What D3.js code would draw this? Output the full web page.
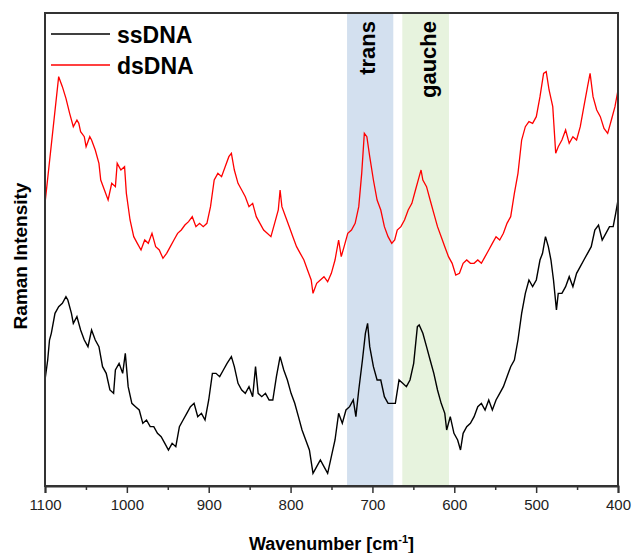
<!DOCTYPE html>
<html lang="en">
<head>
<meta charset="UTF-8">
<title>Raman spectra</title>
<script src="https://d3js.org/d3.v7.min.js"></script>
<style>
  body { margin: 0; background: #fff; }
  text { font-family: Arial, "Liberation Sans", sans-serif; }
  .frame { fill: none; stroke: #333; stroke-width: 2; }
  .axis path { stroke: #333; stroke-width: 2; }
  .axis line { stroke: #333; stroke-width: 1.5; }
  .axis text { font-size: 15px; fill: #222; }
</style>
</head>
<body>
<svg width="633" height="553"></svg>
<script>
// wavenumbers (cm-1) and intensities (a.u.)
var ssWave = [1100,1096.7,1094.5,1092.3,1087.8,1083.3,1078.8,1074.4,1072.1,1067.7,1065.4,1061,1056.5,1052,1047.5,1043.1,1038.6,1034.1,1029.7,1025.2,1020.7,1016.2,1014,1009.5,1005.1,1001.9,998.4,993.9,989.4,984.9,980.5,976,971.5,967.1,962.6,958.1,953.6,949.2,944.7,940.2,935.8,931.3,926.8,922.3,917.9,913.4,908.9,904.5,900,895.5,891.1,886.6,882.1,877.6,872.3,868.7,864.2,859.7,855.3,850.8,846.3,842.8,839.6,835.2,830.7,826.2,821.7,817.3,812.8,808.3,803.9,799.4,794.9,790.4,786,781.5,777,772.6,768.1,763.6,759.2,754.7,750.2,745.7,741.3,736.8,732.3,727.9,723.4,720.2,716.7,712.2,708.6,705.9,703.3,698.8,694.3,689.8,685.4,680.9,676.4,672,667.5,663,658.5,654.1,649.6,645.1,642.9,638.4,633.9,629.5,625,620.5,616,611.6,609.3,604.9,600.4,595.9,592.4,589.2,584.8,580.3,575.8,571.3,566.9,562.4,557.9,553.5,549,544.5,540,535.6,531.1,526.6,522.2,517.7,513.2,508.8,504.3,499.8,495.3,492.2,488.6,485.1,481.9,478.8,475.2,473,468.5,464,459.6,455.1,450.6,446.1,441.7,437.2,432.7,428.3,423.8,419.3,414.8,410.4,405.9,402.8,400];
var ssInt = [31.8,37.8,43.8,45.8,51.8,53.8,54.8,56.8,55.8,51.8,48.8,50.8,46.8,43.8,41.8,46.8,43.8,41.8,35.8,33.8,28.8,27.8,34.8,36.8,33.8,39.8,29.8,24.8,23.8,22.8,18.8,19.8,17.8,17.8,15.8,14.8,12.8,10.8,12.8,11.8,17.8,19.8,21.8,23.8,24.8,20.8,21.8,19.8,25.8,33.8,33.8,32.8,34.8,36.8,38.8,35.8,30.8,28.8,27.8,29.8,26.8,35.8,27.8,26.8,27.8,25.8,25.8,32.8,38.8,34.8,31.8,27.8,24.8,20.8,16.8,13.8,10.8,3.8,5.8,7.8,5.8,3.8,8.8,13.8,21.8,18.8,22.8,23.8,25.8,20.8,28.8,37.8,45.8,48.8,41.8,35.8,31.8,31.8,26.8,24.8,24.8,24.8,31.8,30.8,29.8,31.8,36.8,47.8,48.3,45.8,41.8,37.8,33.8,28.8,24.8,21.8,16.8,20.8,15.8,13.8,10.8,15.8,17.8,18.8,20.8,23.8,24.8,22.8,25.8,22.8,25.8,27.8,29.8,32.8,35.8,37.8,43.8,51.8,57.8,61.8,59.8,61.8,67.8,69.8,74.8,71.8,67.8,61.8,52.8,57.8,57.8,59.8,62.8,59.8,63.8,65.8,67.8,69.8,71.8,76.8,78.3,73.8,75.8,77.8,77.8,81.8,85.8];

var dsWave = [1100,1083.3,1078.8,1074.4,1069.9,1065.4,1061,1058.7,1056.5,1052,1049.8,1045.3,1043.1,1038.6,1034.1,1031.9,1027.4,1022.9,1018.5,1014,1011.8,1007.3,1002.8,1000.6,996.1,991.6,987.2,982.7,978.2,973.8,969.3,964.8,960.4,955.9,951.4,946.9,942.5,938,933.5,929.1,924.6,920.1,915.6,911.2,906.7,902.2,897.8,893.3,888.8,884.3,879.9,875.4,872.3,868.7,864.2,859.7,855.3,850.8,846.3,841.9,837.4,832.9,828.5,824,819.5,815,812.8,810.6,806.1,801.6,797.2,792.7,788.2,783.7,779.3,774.8,772.6,768.1,763.6,759.2,754.7,750.2,745.7,741.3,738.1,734.6,730.1,725.6,721.1,716.7,713.1,709.9,706.8,703.3,698.8,694.3,689.8,685.4,680.9,676.4,672.8,669.7,665.2,660.8,656.3,651.8,647.4,642.9,640.6,638.4,633.9,629.5,625,620.5,616,611.6,607.1,602.6,598.2,593.7,589.2,584.8,580.3,575.8,571.3,566.9,562.4,557.9,553.5,549,544.5,540,535.6,531.1,526.6,522.2,517.7,513.2,508.8,504.3,499.8,495.3,490.9,487.7,484.2,479.7,476.1,473,468.5,464,459.6,455.1,450.6,446.1,441.7,437.2,434.1,430.5,426,421.6,417.1,412.6,408.1,403.7,400];
var dsInt = [84.8,122.8,119.8,116.3,111.8,107.8,109.8,108.8,106.3,104.8,101.8,104.8,103.8,100.8,96.8,91.8,88.8,85.8,90.8,89.8,96.8,94.8,95.8,87.8,79.8,74.8,72.8,70.8,73.8,72.8,75.8,71.8,70.8,68.3,69.8,71.8,73.8,75.8,76.8,78.3,79.3,80.8,77.8,78.8,77.8,78.8,83.8,91.8,93.8,92.8,95.8,98.8,99.8,94.8,90.8,88.8,86.8,83.8,84.8,80.8,78.8,76.8,75.8,74.8,78.8,82.8,88.8,83.8,80.8,77.8,74.8,71.8,69.8,67.8,64.8,61.8,57.8,60.8,61.8,62.8,61.3,63.8,67.8,73.8,68.8,71.8,75.8,76.8,78.8,83.8,93.8,105.8,104.8,98.8,91.8,85.8,82.8,77.8,74.8,72.8,73.8,76.8,77.8,79.8,82.8,84.8,88.8,92.8,94.8,91.8,89.8,85.8,81.8,77.8,74.8,71.8,68.8,66.8,63.3,63.8,66.8,67.8,66.8,66.8,67.8,66.8,68.8,70.8,72.8,74.8,73.8,75.8,78.8,80.8,87.8,93.8,103.8,107.8,109.3,108.8,110.8,116.8,123.8,124.3,118.8,113.8,99.8,101.8,103.8,106.8,102.8,104.8,103.8,107.8,113.8,119.8,123.8,116.8,112.8,110.8,107.3,105.8,109.8,113.8,118.8];

var seriesNames = ["ssDNA", "dsDNA"];
var seriesColors = ["#000000", "#ff0000"];
var xTicks = [1100, 1000, 900, 800, 700, 600, 500, 400];
var xMinorTicks = [1050, 950, 850, 750, 650, 550, 450];
var bands = [
  {label: "trans", from: 731, to: 674.5, color: "#d3e0ef"},
  {label: "gauche", from: 663.5, to: 606.5, color: "#e7f3de"}
];

var svg = d3.select("svg"),
    margin = {top: 13, right: 15, bottom: 67, left: 45},
    width = +svg.attr("width") - margin.left - margin.right,
    height = +svg.attr("height") - margin.top - margin.bottom;

var g = svg.append("g")
    .attr("transform", "translate(" + margin.left + "," + margin.top + ")");

var x = d3.scaleLinear().domain([1100, 400]).range([0, width]);
var y = d3.scaleLinear().domain([0, 141.9]).range([height, 0]);

// shaded bands
bands.forEach(function(b) {
    g.append("rect")
        .attr("x", x(b.from))
        .attr("y", 0)
        .attr("width", x(b.to) - x(b.from))
        .attr("height", height)
        .attr("fill", b.color);
});

g.append("text")
    .attr("transform", "translate(" + (x(bands[0].from) + 28) + ",8) rotate(-90)")
    .attr("text-anchor", "end")
    .style("font-size", "22px")
    .style("font-weight", "bold")
    .text(bands[0].label);
g.append("text")
    .attr("transform", "translate(" + (x(bands[1].from) + 34) + ",8) rotate(-90)")
    .attr("text-anchor", "end")
    .style("font-size", "22px")
    .style("font-weight", "bold")
    .text(bands[1].label);

// spectra
var line = d3.line()
    .x(function(d) { return x(d[0]); })
    .y(function(d) { return y(d[1]); });

var ssData = ssWave.map(function(w, i) { return [w, ssInt[i]]; });
var dsData = dsWave.map(function(w, i) { return [w, dsInt[i]]; });

g.append("path")
    .datum(dsData)
    .attr("d", line)
    .attr("fill", "none")
    .attr("stroke", seriesColors[1])
    .attr("stroke-width", 1.3);

g.append("path")
    .datum(ssData)
    .attr("d", line)
    .attr("fill", "none")
    .attr("stroke", seriesColors[0])
    .attr("stroke-width", 1.4);

// frame
g.append("rect")
    .attr("class", "frame")
    .attr("width", width)
    .attr("height", height);

// x axis
g.append("g")
    .attr("class", "axis")
    .attr("transform", "translate(0," + height + ")")
    .call(d3.axisBottom(x).tickValues(xTicks).tickSize(7).tickPadding(6).tickFormat(d3.format("d")));

g.append("g")
    .attr("class", "axis")
    .attr("transform", "translate(0," + height + ")")
    .call(d3.axisBottom(x).tickValues(xMinorTicks).tickSize(4).tickFormat(""))
    .select(".domain").remove();

// axis titles
var xt = svg.append("text")
    .attr("x", margin.left + width / 2)
    .attr("y", 550)
    .attr("text-anchor", "middle")
    .style("font-size", "18px")
    .style("font-weight", "bold");
xt.append("tspan").text("Wavenumber [cm");
xt.append("tspan").attr("dy", -7).style("font-size", "11px").text("-1");
xt.append("tspan").attr("dy", 7).text("]");

svg.append("text")
    .attr("transform", "translate(27,256) rotate(-90)")
    .attr("text-anchor", "middle")
    .style("font-size", "19px")
    .style("font-weight", "bold")
    .text("Raman Intensity");

// legend
seriesNames.forEach(function(name, i) {
    var ly = 34 + i * 31;
    svg.append("line")
        .attr("x1", 51).attr("x2", 110)
        .attr("y1", ly).attr("y2", ly)
        .attr("stroke", seriesColors[i])
        .attr("stroke-width", 1.5);
    svg.append("text")
        .attr("x", 117)
        .attr("y", ly + 8.5)
        .style("font-size", "23px")
        .style("font-weight", "bold")
        .text(name);
});
</script>
</body>
</html>
